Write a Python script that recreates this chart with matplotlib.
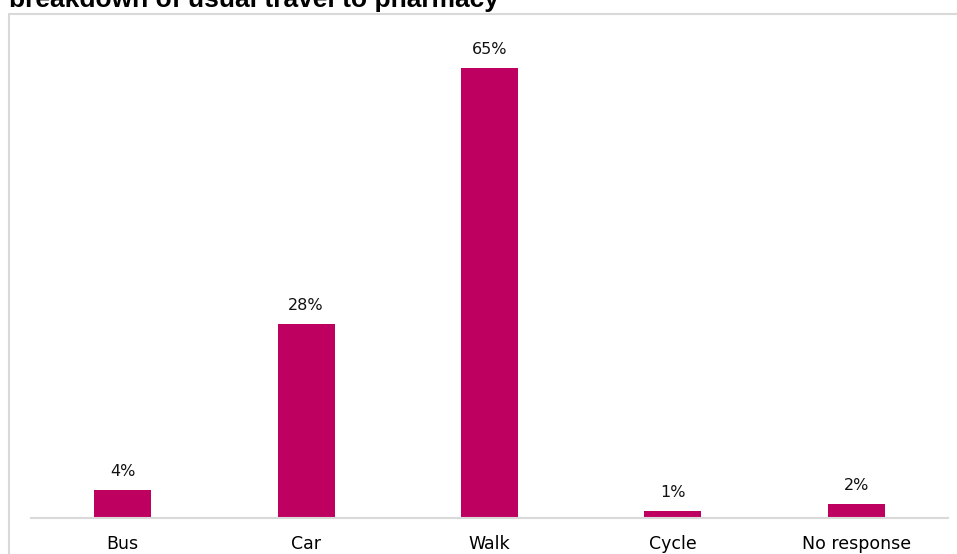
import matplotlib
matplotlib.use('Agg')
import matplotlib.pyplot as plt
from matplotlib.patches import Rectangle

modes = ['Bus', 'Car', 'Walk', 'Cycle', 'No response']
share = [4, 28, 65, 1, 2]
labels = ['4%', '28%', '65%', '1%', '2%']

barColor = '#BE0060'

fig = plt.figure(figsize=(9.57, 5.54), dpi=100)

# grey frame round the chart area
fig.patches.append(Rectangle((8.5/957, -0.05), 1.0, 1 - 14/554 + 0.05,
                             transform=fig.transFigure, fill=False,
                             edgecolor='#d9d9d9', linewidth=1.5))

fig.text(499/957, 1 - 7/554, 'breakdown of usual travel to pharmacy',
         ha='right', va='baseline', fontsize=19, fontweight='bold',
         family='Liberation Sans', color='black')

ax = fig.add_axes([31/957, 36/554, (948-31)/957, (518-33.6)/554])

x = range(len(modes))
ax.bar(x, share, width=0.31, color=barColor, zorder=2)

for i, (v, s) in enumerate(zip(share, labels)):
    ax.annotate(s, (i, v), xytext=(0, 8), textcoords='offset points',
                ha='center', va='bottom', fontsize=11.5, color='#111111')

ax.set_xlim(-0.5, 4.5)
ax.set_ylim(0, 70)
ax.set_xticks(list(x))
ax.set_xticklabels(modes, fontsize=12.5, color='black')
ax.tick_params(axis='x', length=0, pad=12)
ax.set_yticks([])

for side in ['top', 'right', 'left']:
    ax.spines[side].set_visible(False)
ax.spines['bottom'].set_color('#d9d9d9')
ax.spines['bottom'].set_linewidth(1.5)

plt.savefig('out.png', dpi=100)
